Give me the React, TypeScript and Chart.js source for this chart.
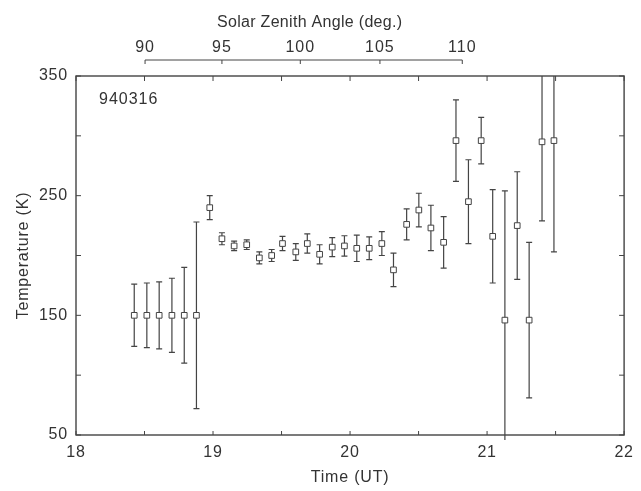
import React, { useEffect, useRef } from 'react';
import { Chart, registerables } from 'chart.js';

Chart.register(...registerables);

// ---- Data ----
const times = [
  18.425, 18.517, 18.607, 18.7, 18.79, 18.879, 18.976, 19.065, 19.154, 19.246,
  19.338, 19.428, 19.507, 19.604, 19.688, 19.778, 19.87, 19.959, 20.049, 20.14,
  20.232, 20.317, 20.413, 20.502, 20.59, 20.683, 20.773, 20.864, 20.957, 21.041,
  21.13, 21.22, 21.307, 21.401, 21.488,
];
const temperatures = [
  150, 150, 150, 150, 150, 150, 240, 214, 208, 209,
  198, 200, 210, 203, 210, 201, 207, 208, 206, 206,
  210, 188, 226, 238, 223, 211, 296, 245, 296, 216,
  146, 225, 146, 295, 296,
];
const errors = [
  26, 27, 28, 31, 40, 78, 10, 5, 4, 4,
  5, 5, 6, 7, 8, 8, 8, 8.5, 11, 9.5,
  10, 14, 13, 14, 19, 21.5, 34, 35, 19.5, 39,
  108, 45, 65, 66, 93,
];
const zenithAngles = [90, 95, 100, 105, 110];
const zenithTimes = [18.504, 19.065, 19.637, 20.218, 20.819];
const dateLabel = '940316';
const xTitle = 'Time (UT)';
const yTitle = 'Temperature (K)';
const topTitle = 'Solar Zenith Angle (deg.)';

const FONT = '"Liberation Sans", Arial, Helvetica, sans-serif';
const INK = '#333333';

const extrasPlugin = {
  id: 'extras',
  beforeDraw(chart: any) {
    chart.ctx.letterSpacing = '0.8px';
  },
  beforeDatasetsDraw(chart: any) {
    const { ctx, chartArea, scales } = chart;
    const xs = scales.x;
    const ys = scales.y;
    ctx.save();
    ctx.beginPath();
    ctx.rect(chartArea.left, chartArea.top, chartArea.right - chartArea.left, chartArea.bottom - chartArea.top + 5);
    ctx.clip();
    ctx.strokeStyle = '#444';
    ctx.lineWidth = 1.2;
    for (let i = 0; i < times.length; i++) {
      const px = xs.getPixelForValue(times[i]);
      const yTop = ys.getPixelForValue(temperatures[i] + errors[i]);
      const yBot = ys.getPixelForValue(temperatures[i] - errors[i]);
      ctx.beginPath();
      ctx.moveTo(px, yTop);
      ctx.lineTo(px, yBot);
      ctx.moveTo(px - 3, yTop);
      ctx.lineTo(px + 3, yTop);
      ctx.moveTo(px - 3, yBot);
      ctx.lineTo(px + 3, yBot);
      ctx.stroke();
    }
    ctx.restore();
  },
  afterDraw(chart: any) {
    const { ctx, chartArea, scales } = chart;
    const xs = scales.x;
    const ys = scales.y;
    const { left, right, top, bottom } = chartArea;
    ctx.save();
    ctx.strokeStyle = '#444';
    ctx.lineWidth = 1.4;
    ctx.strokeRect(left, top, right - left, bottom - top);

    ctx.lineWidth = 1;
    // inward tick marks
    ctx.beginPath();
    xs.ticks.forEach((t: any) => {
      const px = xs.getPixelForValue(t.value);
      ctx.moveTo(px, bottom);
      ctx.lineTo(px, bottom - 4);
      ctx.moveTo(px, top);
      ctx.lineTo(px, top + 5);
    });
    ys.ticks.forEach((t: any) => {
      const py = ys.getPixelForValue(t.value);
      ctx.moveTo(left, py);
      ctx.lineTo(left + 5, py);
      ctx.moveTo(right, py);
      ctx.lineTo(right - 5, py);
    });
    ctx.stroke();

    // solar zenith angle axis (top)
    const lineY = 60;
    const x0 = xs.getPixelForValue(zenithTimes[0]);
    const x1 = xs.getPixelForValue(zenithTimes[zenithTimes.length - 1]);
    ctx.beginPath();
    ctx.moveTo(x0, lineY);
    ctx.lineTo(x1, lineY);
    zenithTimes.forEach((zt) => {
      const px = xs.getPixelForValue(zt);
      ctx.moveTo(px, lineY);
      ctx.lineTo(px, lineY + 4);
    });
    ctx.stroke();

    ctx.fillStyle = INK;
    ctx.letterSpacing = '1px';
    ctx.font = `16px ${FONT}`;
    ctx.textAlign = 'center';
    ctx.textBaseline = 'middle';
    zenithAngles.forEach((a, i) => {
      const px = xs.getPixelForValue(zenithTimes[i]);
      ctx.fillText(String(a), px, 48);
    });
    ctx.letterSpacing = '0.3px';
    ctx.fillText(topTitle, (x0 + x1) / 2 + 6, 23);

    ctx.textAlign = 'left';
    ctx.letterSpacing = '1px';
    ctx.fillText(dateLabel, 99, 100);
    ctx.restore();
  },
};

export default function App() {
  const canvasRef = useRef<HTMLCanvasElement | null>(null);

  useEffect(() => {
    const canvas = canvasRef.current;
    if (!canvas) return;
    const chart = new Chart(canvas, {
      type: 'scatter',
      data: {
        datasets: [
          {
            data: times.map((t, i) => ({ x: t, y: temperatures[i] })),
            pointStyle: 'rect',
            pointRadius: 4,
            pointBorderWidth: 1,
            pointBackgroundColor: '#ffffff',
            pointBorderColor: '#444',
            showLine: false,
          },
        ],
      },
      options: {
        responsive: false,
        animation: false,
        layout: { padding: { left: 0, right: 11, top: 76, bottom: 0 } },
        plugins: {
          legend: { display: false },
          tooltip: { enabled: false },
        },
        scales: {
          x: {
            type: 'linear',
            position: 'bottom',
            min: 18,
            max: 22,
            grid: { display: false, drawTicks: false },
            border: { display: false },
            ticks: {
              stepSize: 0.5,
              autoSkip: false,
              maxRotation: 0,
              padding: 8,
              color: INK,
              font: { family: FONT, size: 16 },
              callback: (v: any) => (Number.isInteger(Number(v)) ? String(v) : ''),
            },
            title: {
              display: true,
              text: xTitle,
              color: INK,
              font: { family: FONT, size: 16 },
              padding: { top: 0, bottom: 4 },
            },
            afterFit: (s: any) => {
              s.height = 56;
            },
          },
          y: {
            type: 'linear',
            min: 50,
            max: 350,
            grid: { display: false, drawTicks: false },
            border: { display: false },
            ticks: {
              stepSize: 50,
              padding: 8,
              color: INK,
              font: { family: FONT, size: 16 },
              callback: (v: any) => ((Number(v) - 50) % 100 === 0 ? String(v) : ''),
            },
            title: {
              display: true,
              text: yTitle,
              color: INK,
              font: { family: FONT, size: 16 },
              padding: { top: 14, bottom: 0 },
            },
            afterFit: (s: any) => {
              s.width = 76;
            },
          },
        },
      },
      plugins: [extrasPlugin],
    });
    return () => chart.destroy();
  }, []);

  return (
    <div style={{ position: 'fixed', left: 0, top: 0, width: 641, height: 491, background: '#ffffff' }}>
      <canvas ref={canvasRef} width={641} height={491} style={{ display: 'block' }} />
    </div>
  );
}
